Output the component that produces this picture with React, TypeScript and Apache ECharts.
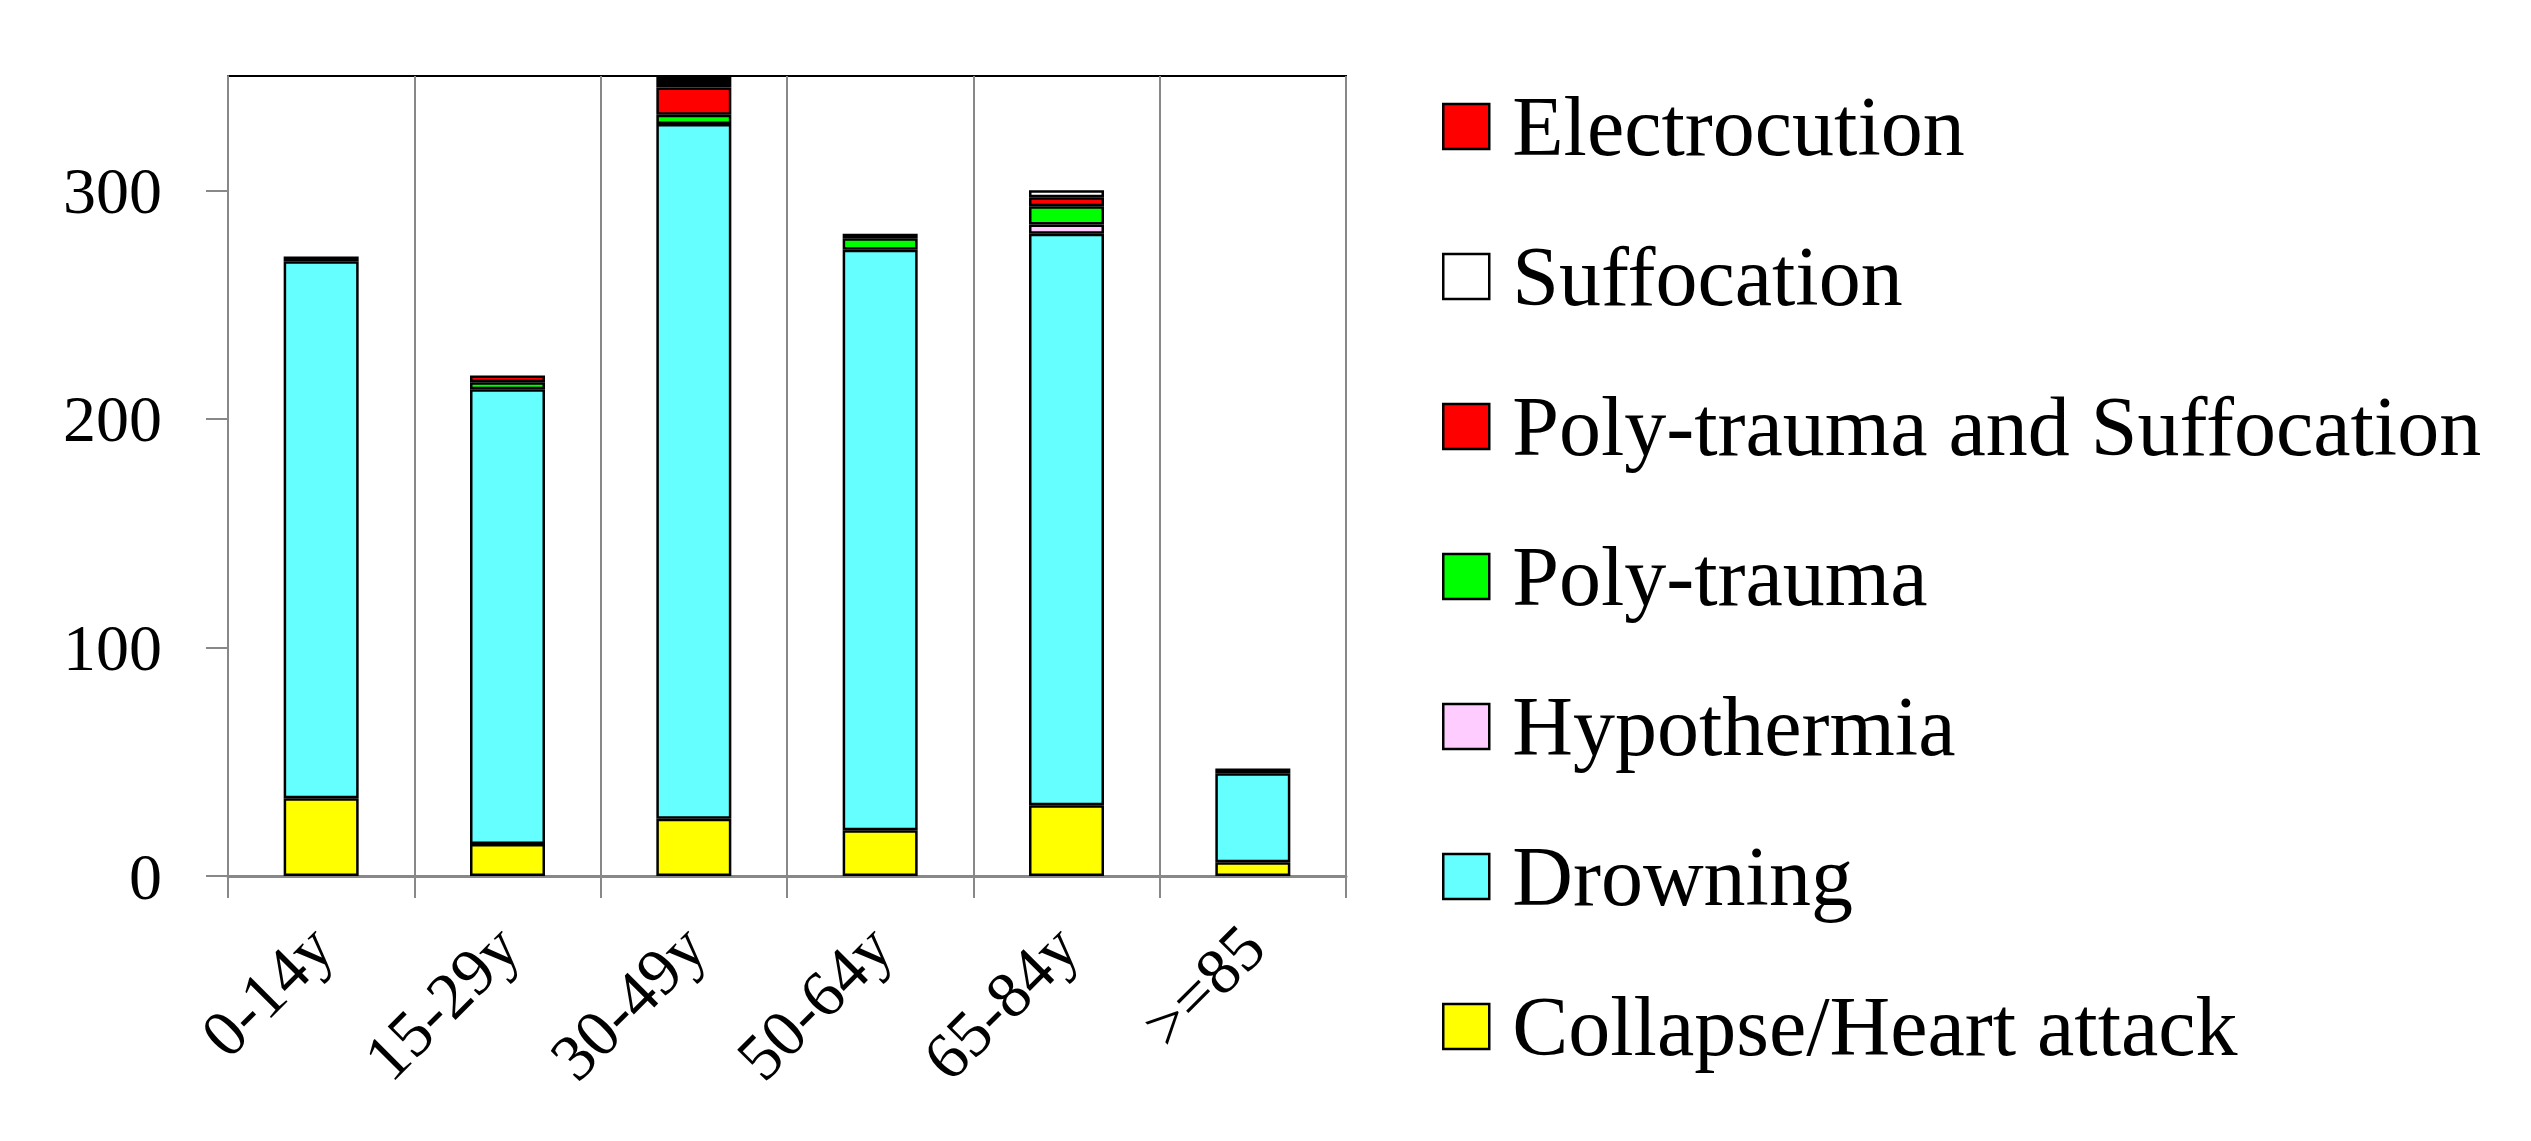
import React, { useEffect, useRef } from "react";
import * as echarts from "echarts";

const categories = ["0-14y", "15-29y", "30-49y", "50-64y", "65-84y", ">=85"];
const collapseHeart = [34, 14, 25, 20, 31, 6];
const drowning = [235, 199, 304, 254, 250, 39];
const hypothermia = [0, 0, 0, 0, 4, 0];
const polyTrauma = [0, 3, 4, 5, 8, 0];
const polyTraumaSuffocation = [0, 3, 12, 0, 4, 0];
const suffocation = [0, 0, 0, 0, 3, 0];
const electrocution = [0, 0, 0, 0, 0, 0];
const unlabeled = [2, 0, 5, 2, 0, 2];
const yTicks = [0, 100, 200, 300];

const legendOrder = [
  "Electrocution",
  "Suffocation",
  "Poly-trauma and Suffocation",
  "Poly-trauma",
  "Hypothermia",
  "Drowning",
  "Collapse/Heart attack",
];

const FONT = "'Liberation Serif', 'DejaVu Serif', serif";

export default function App() {
  const ref = useRef<HTMLDivElement>(null);

  useEffect(() => {
    document.body.style.margin = "0";
    document.body.style.overflow = "hidden";
    if (!ref.current) return;
    const chart = echarts.init(ref.current, undefined, { renderer: "svg" });

    const mk = (name: string, values: number[], color: string) => ({
      name,
      type: "bar",
      stack: "total",
      barWidth: 75,
      data: values.map((v) => (v === 0 ? null : v)),
      itemStyle: { color, borderColor: "#000", borderWidth: 2.5 },
      emphasis: { disabled: true },
    });

    const option = {
      animation: false,
      backgroundColor: "#ffffff",
      textStyle: { fontFamily: FONT },
      grid: {
        left: 228,
        top: 76,
        width: 1118,
        height: 800,
        show: true,
        borderColor: "#000",
        borderWidth: 2,
        backgroundColor: "transparent",
      },
      legend: {
        orient: "vertical",
        left: 1442,
        top: 84,
        padding: 0,
        itemWidth: 46,
        itemHeight: 45,
        itemGap: 65,
        icon: "rect",
        selectedMode: false,
        data: legendOrder,
        itemStyle: { borderColor: "#000", borderWidth: 2.5 },
        textStyle: {
          fontFamily: FONT,
          fontSize: 84,
          color: "#000",
          lineHeight: 85,
          padding: [0, 0, 0, 18],
        },
      },
      xAxis: {
        type: "category",
        data: categories,
        axisLine: { show: true, lineStyle: { color: "#888", width: 3 } },
        axisTick: { show: true, length: 22, lineStyle: { color: "#888", width: 2 } },
        splitLine: { show: true, interval: 0, lineStyle: { color: "#888", width: 2 } },
        axisLabel: {
          interval: 0,
          rotate: 45,
          fontFamily: FONT,
          fontSize: 66,
          color: "#000",
          margin: 60,
        },
      },
      yAxis: {
        type: "value",
        min: 0,
        max: 350,
        interval: 100,
        axisLine: { show: true, lineStyle: { color: "#888", width: 2 } },
        axisTick: {
          show: true,
          length: 22,
          lineStyle: { color: "#888", width: 2 },
          customValues: yTicks,
        },
        axisLabel: {
          fontFamily: FONT,
          fontSize: 66,
          color: "#000",
          margin: 66,
          customValues: yTicks,
        },
        splitLine: { show: false },
      },
      series: [
        mk("Collapse/Heart attack", collapseHeart, "#FFFF00"),
        mk("Drowning", drowning, "#66FFFF"),
        mk("Hypothermia", hypothermia, "#FFCCFF"),
        mk("Poly-trauma", polyTrauma, "#00FF00"),
        mk("Poly-trauma and Suffocation", polyTraumaSuffocation, "#FF0000"),
        mk("Suffocation", suffocation, "#FFFFFF"),
        mk("Electrocution", electrocution, "#FF0000"),
        mk("Other", unlabeled, "#000000"),
      ],
    };

    chart.setOption(option as any);
    return () => chart.dispose();
  }, []);

  return <div ref={ref} style={{ width: 2531, height: 1141 }} />;
}
